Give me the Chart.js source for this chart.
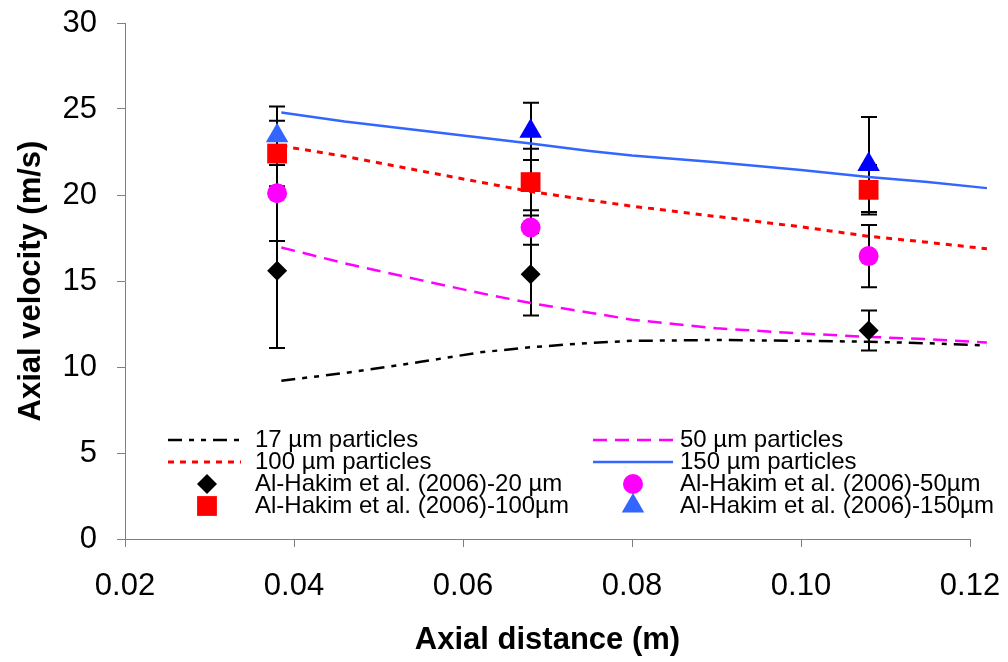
<!DOCTYPE html>
<html><head><meta charset="utf-8">
<script src="https://cdn.jsdelivr.net/npm/chart.js@4/dist/chart.umd.min.js"></script>
<style>html,body{margin:0;padding:0;background:#fff}canvas{display:block}</style>
</head><body>
<canvas id="c" width="1008" height="662" style="width:1008px;height:662px"></canvas>
<script>
// ---- data ----
const simX   = [0.0385, 0.046, 0.055, 0.062, 0.068, 0.075, 0.08, 0.09, 0.10, 0.108, 0.115, 0.122];
const sim17  = [9.2, 9.65, 10.3, 10.85, 11.15, 11.4, 11.52, 11.57, 11.52, 11.47, 11.38, 11.25];
const sim50  = [16.95, 16.03, 15.05, 14.3, 13.72, 13.16, 12.75, 12.25, 11.95, 11.75, 11.62, 11.42];
const sim100 = [22.85, 22.25, 21.4, 20.75, 20.2, 19.7, 19.35, 18.75, 18.15, 17.6, 17.25, 16.87];
const sim150 = [24.8, 24.27, 23.75, 23.34, 23.0, 22.56, 22.3, 21.9, 21.45, 21.05, 20.75, 20.4];

const expX      = [0.038, 0.068, 0.108];
const exp20     = [15.6, 15.39, 12.12];
const exp20Err  = [4.5, 2.4, 1.16];
const exp50     = [20.1, 18.11, 16.45];
const exp50Err  = [2.77, 1.0, 1.81];
const exp100    = [22.41, 20.75, 20.3];
const exp100Err = [1.9, 1.94, 1.44];
const exp150    = [23.45, 23.7, 21.77];
const exp150Err = [1.7, 1.67, 2.76];

const xTicks = [0.02, 0.04, 0.06, 0.08, 0.10, 0.12];
const xTickLabels = ['0.02', '0.04', '0.06', '0.08', '0.10', '0.12'];
const yTicks = [0, 5, 10, 15, 20, 25, 30];
const yTickLabels = ['0', '5', '10', '15', '20', '25', '30'];

const seriesLabels = [
  '17 µm particles', '50 µm particles', '100 µm particles', '150 µm particles',
  'Al-Hakim et al. (2006)-20 µm', 'Al-Hakim et al. (2006)-50µm',
  'Al-Hakim et al. (2006)-100µm', 'Al-Hakim et al. (2006)-150µm'
];

// ---- helpers ----
const FONT = '"Liberation Sans", Arial, Helvetica, sans-serif';
Chart.defaults.font.family = FONT;
Chart.defaults.color = '#000';
const pts = (xs, ys) => xs.map((x, i) => ({x: x, y: ys[i]}));

function lineDs(label, ys, color, dash, width) {
  return { label, data: pts(simX, ys), showLine: true, borderColor: color, backgroundColor: color,
    borderWidth: width, borderDash: dash, pointRadius: 0, pointHoverRadius: 0, tension: 0,
    clip: false, order: 10 };
}
function markDs(label, ys, errs, color, style, radius, order, legendColor) {
  return { label, data: pts(expX, ys), showLine: false, backgroundColor: color, borderColor: color,
    borderWidth: 0, pointStyle: style, pointRadius: radius, pointHoverRadius: radius,
    errors: errs, legendColor: legendColor || color, order };
}

const datasets = [
  lineDs(seriesLabels[0], sim17, '#000000', [14, 7, 5, 7, 5, 7], 2.5),
  lineDs(seriesLabels[1], sim50, '#FF00FF', [14, 8], 2.5),
  lineDs(seriesLabels[2], sim100, '#FF0000', [6, 6], 3),
  lineDs(seriesLabels[3], sim150, '#3366FF', [], 2.5),
  markDs(seriesLabels[4], exp20, exp20Err, '#000000', 'rectRot', 10, 3),
  markDs(seriesLabels[5], exp50, exp50Err, '#FF00FF', 'circle', 10, 2),
  markDs(seriesLabels[6], exp100, exp100Err, '#FF0000', 'rect', 14, 1),
  markDs(seriesLabels[7], exp150, exp150Err, ['#3366FF', '#0000FF', '#0000FF'], 'triangle', 13, 0, '#3366FF')
];

const errorBars = {
  id: 'errorBars',
  beforeDatasetsDraw(chart) {
    const {ctx, scales: {x, y}} = chart;
    ctx.save();
    ctx.strokeStyle = '#000';
    ctx.lineWidth = 2;
    chart.data.datasets.forEach(ds => {
      if (!ds.errors) return;
      ds.data.forEach((p, i) => {
        const px = Math.round(x.getPixelForValue(p.x));
        const y1 = y.getPixelForValue(p.y + ds.errors[i]);
        const y2 = y.getPixelForValue(p.y - ds.errors[i]);
        ctx.beginPath();
        ctx.moveTo(px, y1); ctx.lineTo(px, y2);
        ctx.moveTo(px - 8, y1); ctx.lineTo(px + 8, y1);
        ctx.moveTo(px - 8, y2); ctx.lineTo(px + 8, y2);
        ctx.stroke();
      });
    });
    ctx.restore();
  }
};

const legendLayout = [
  {ds: 0, col: 0, row: 0}, {ds: 2, col: 0, row: 1}, {ds: 4, col: 0, row: 2}, {ds: 6, col: 0, row: 3},
  {ds: 1, col: 1, row: 0}, {ds: 3, col: 1, row: 1}, {ds: 5, col: 1, row: 2}, {ds: 7, col: 1, row: 3}
];
const insideLegend = {
  id: 'insideLegend',
  afterDraw(chart) {
    const ctx = chart.ctx;
    const cols = [{l1: 168, l2: 241, mx: 207, tx: 255}, {l1: 593, l2: 673, mx: 633, tx: 680}];
    const rows = [440, 462, 484, 506];
    ctx.save();
    ctx.font = '24px ' + FONT;
    ctx.textBaseline = 'middle';
    ctx.textAlign = 'left';
    legendLayout.forEach(it => {
      const ds = chart.data.datasets[it.ds];
      const c = cols[it.col], yy = rows[it.row];
      if (ds.showLine) {
        ctx.save();
        ctx.strokeStyle = ds.borderColor;
        ctx.lineWidth = ds.borderWidth;
        ctx.setLineDash(ds.borderDash || []);
        ctx.beginPath(); ctx.moveTo(c.l1, yy); ctx.lineTo(c.l2, yy); ctx.stroke();
        ctx.restore();
      } else {
        ctx.save();
        ctx.fillStyle = ds.legendColor;
        ctx.strokeStyle = ds.legendColor;
        Chart.helpers.drawPoint(ctx, {pointStyle: ds.pointStyle, radius: ds.pointRadius, borderWidth: 0, rotation: 0}, c.mx, yy);
        ctx.restore();
      }
      ctx.fillStyle = '#000';
      ctx.fillText(ds.label, c.tx, yy);
    });
    ctx.restore();
  }
};

function zeroPad(s) { s.paddingTop = 0; s.paddingBottom = 0; s.paddingLeft = 0; s.paddingRight = 0; }

new Chart(document.getElementById('c'), {
  type: 'scatter',
  data: { datasets },
  plugins: [errorBars, insideLegend],
  options: {
    responsive: false,
    animation: false,
    devicePixelRatio: 1,
    layout: { padding: { top: 23, right: 38, left: 0, bottom: 0 } },
    plugins: { legend: { display: false }, tooltip: { enabled: false } },
    scales: {
      x: {
        type: 'linear', min: 0.02, max: 0.12,
        afterBuildTicks: s => { s.ticks = xTicks.map(v => ({value: v})); },
        afterFit: s => { s.height = 123; zeroPad(s); },
        ticks: { font: { size: 31 }, color: '#000', padding: 21, maxRotation: 0,
          callback: (v) => { const i = xTicks.findIndex(t => Math.abs(t - v) < 1e-9); return i >= 0 ? xTickLabels[i] : ''; } },
        grid: { display: true, drawOnChartArea: false, drawTicks: true, tickLength: 8, color: '#808080', tickColor: '#808080' },
        border: { display: true, color: '#808080', width: 1 },
        title: { display: true, text: 'Axial distance (m)', font: { size: 31, weight: 'bold' }, color: '#000', padding: { top: 0, bottom: 3 } }
      },
      y: {
        type: 'linear', min: 0, max: 30,
        afterBuildTicks: s => { s.ticks = yTicks.map(v => ({value: v})); },
        afterFit: s => { s.width = 125; zeroPad(s); },
        ticks: { font: { size: 31 }, color: '#000', padding: 20,
          callback: (v) => { const i = yTicks.indexOf(v); return i >= 0 ? yTickLabels[i] : ''; } },
        grid: { display: true, drawOnChartArea: false, drawTicks: true, tickLength: 8, color: '#808080', tickColor: '#808080' },
        border: { display: true, color: '#808080', width: 1 },
        title: { display: true, text: 'Axial velocity (m/s)', font: { size: 31, weight: 'bold' }, color: '#000', padding: { top: 13, bottom: 0 } }
      }
    }
  }
});
</script>
</body></html>
